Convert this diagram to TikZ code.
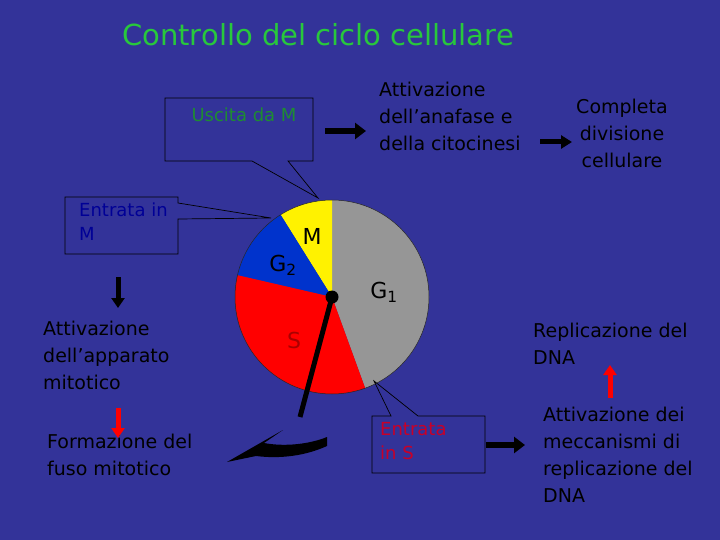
\documentclass[tikz,border=0pt]{standalone}
\usepackage{fontspec}
\setmainfont{DejaVu Sans}
\usetikzlibrary{arrows.meta}
\definecolor{bg}{RGB}{51,51,153}
\definecolor{titlegreen}{RGB}{40,200,60}
\definecolor{darkgreen}{RGB}{30,140,50}
\definecolor{darkblue}{RGB}{0,0,150}
\definecolor{textred}{RGB}{200,0,40}
\definecolor{pgray}{RGB}{150,150,150}
\definecolor{pblue}{RGB}{0,51,204}
\definecolor{sred}{RGB}{170,0,0}
\begin{document}
\begin{tikzpicture}[x=1pt,y=-1pt,
  body/.style={font=\fontsize{19}{27}\selectfont, text=black, align=left, inner sep=0pt, anchor=west},
  small/.style={font=\fontsize{18}{24}\selectfont, align=left, inner sep=0pt, anchor=west},
  lbl/.style={font=\fontsize{22}{26}\selectfont, text=black, inner sep=0pt},
  callout/.style={draw=black, line width=0.7pt},
  blockarrow/.style={line width=6pt, -{Triangle[length=11pt,width=16pt]}},
  thinarrow/.style={line width=5pt, -{Triangle[length=10pt,width=13pt]}}]
\fill[bg] (0,0) rectangle (720,540);
\useasboundingbox (0,0) rectangle (720,540);

% title
\node[font=\fontsize{29}{34}\selectfont, text=titlegreen, inner sep=0pt] (title) at (318,35) {Controllo del ciclo cellulare};

% pie
\begin{scope}[shift={(332,297)}, yscale=-1]
  \fill[pgray] (0,0) -- (-70:97) arc[start angle=-70, end angle=90, radius=97] -- cycle;
  \fill[yellow] (0,0) -- (90:97) arc[start angle=90, end angle=122, radius=97] -- cycle;
  \fill[pblue] (0,0) -- (122:97) arc[start angle=122, end angle=167, radius=97] -- cycle;
  \fill[red] (0,0) -- (167:97) arc[start angle=167, end angle=290, radius=97] -- cycle;
  \draw[black!85, line width=0.5pt] (0,0) circle[radius=97];
\end{scope}
\coordinate (ctr) at (332,297);
\coordinate (needle) at (300,417);
\draw[line width=5pt] (ctr) -- (needle);
\fill[black] (ctr) circle[radius=6.5];
\node[lbl] (Mlab) at (312,236) {M};
\node[lbl] (G2lab) at (283,265) {G\textsubscript{2}};
\node[lbl] (G1lab) at (384,292) {G\textsubscript{1}};
\node[lbl, text=sred] (Slab) at (294,340) {S};

% curved arrow
\fill[black] (327,437) -- (327,446) .. controls (305,456) and (280,459) .. (256,456)
  -- (227,462) -- (283,430) -- (264,443) .. controls (285,447) and (310,444) .. (327,437) -- cycle;

% callout: Uscita da M
\draw[callout] (165,98) -- (313,98) -- (313,161) -- (288,161) -- (318,198) -- (252,161) -- (165,161) -- cycle;
\node[small, text=darkgreen, anchor=center] (uscita) at (244,115) {Uscita da M};

% callout: Entrata in M
\draw[callout] (65,197) -- (178,197) -- (178,203) -- (271,218) -- (178,219) -- (178,254) -- (65,254) -- cycle;
\node[small, text=darkblue] (entM) at (79,222) {Entrata in\\M};

% callout: Entrata in S
\draw[callout] (372,416) -- (391,416) -- (374,381) -- (418,416) -- (485,416) -- (485,473) -- (372,473) -- cycle;
\node[small, text=textred] (entS) at (380,441) {Entrata\\in S};

% texts
\node[body] (anaf) at (379,116) {Attivazione\\dell’anafase e\\della citocinesi};
\node[body, align=center, anchor=center] (compl) at (622,133) {Completa\\divisione\\cellulare};
\node[body] (app) at (43,355) {Attivazione\\dell’apparato\\mitotico};
\node[body] (fuso) at (47,455) {Formazione del\\fuso mitotico};
\node[body] (repl) at (533,344) {Replicazione del\\DNA};
\node[body] (mecc) at (543,455) {Attivazione dei\\meccanismi di\\replicazione del\\DNA};

% arrows
\coordinate (a1s) at (325,131); \coordinate (a1e) at (366,131);
\draw[blockarrow] (a1s) -- (a1e);
\coordinate (a2s) at (540,142); \coordinate (a2e) at (572,142);
\draw[line width=5pt, -{Triangle[length=11pt,width=13pt]}] (a2s) -- (a2e);
\coordinate (a3s) at (486,445); \coordinate (a3e) at (525,445);
\draw[blockarrow] (a3s) -- (a3e);
\coordinate (a4s) at (118,277); \coordinate (a4e) at (118,308);
\draw[thinarrow] (a4s) -- (a4e);
\coordinate (a5s) at (118,408); \coordinate (a5e) at (118,438);
\draw[thinarrow, red] (a5s) -- (a5e);
\coordinate (a6s) at (610,398); \coordinate (a6e) at (610,365);
\draw[thinarrow, red] (a6s) -- (a6e);
\end{tikzpicture}
\end{document}
